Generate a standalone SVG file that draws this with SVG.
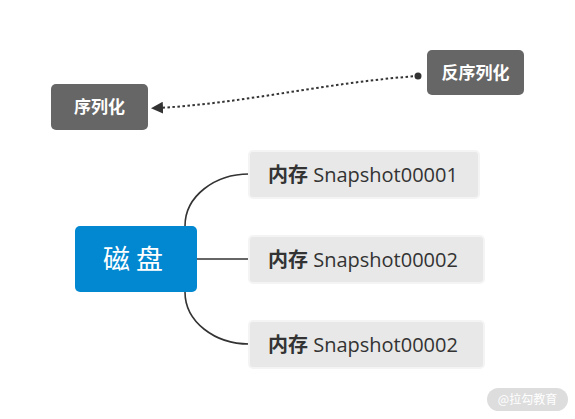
<svg xmlns="http://www.w3.org/2000/svg" width="575" height="419" viewBox="0 0 575 419">
<style>
.dark{fill:#666666}
.dt{font-family:"Noto Sans CJK SC","Noto Sans",sans-serif;font-weight:bold;font-size:17px;fill:#ffffff}
.leaf{fill:#e8e8e8;stroke:#f4f4f4;stroke-width:2}
.lt{font-family:"Open Sans","Noto Sans CJK SC",sans-serif;font-size:20px;fill:#333333}
.cjk{font-family:"Noto Sans CJK SC",sans-serif;font-weight:bold}
.conn{fill:none;stroke:#333333;stroke-width:1.6}
</style>
<defs>
<marker id="arr" viewBox="0 0 10 10" refX="5" refY="5" markerWidth="6" markerHeight="6" orient="auto-start-reverse">
<path d="M0,0 L10,5 L0,10 z" fill="#333333"/>
</marker>
</defs>
<rect width="575" height="419" fill="#ffffff"/>
<g id="connectors">
<path class="conn" d="M185,226 C185,196 215,174 249,174"/>
<path class="conn" d="M197,259 L249,259"/>
<path class="conn" d="M185,292 C185,322 215,344 249,344"/>
<path d="M418,76 C330,82 240,104 157,108" fill="none" stroke="#333333" stroke-width="2" stroke-dasharray="2.5,2.5" marker-end="url(#arr)"/>
<circle cx="418" cy="76" r="3.5" fill="#333333"/>
</g>
<g id="node-serialize">
<rect class="dark" x="51" y="84" width="97" height="46" rx="5"/>
<text class="dt" x="99.5" y="113" text-anchor="middle">序列化</text>
</g>
<g id="node-deserialize">
<rect class="dark" x="427" y="50" width="97" height="45" rx="5"/>
<text class="dt" x="475.5" y="79" text-anchor="middle">反序列化</text>
</g>
<g id="node-disk">
<rect x="75" y="226" width="122" height="66" rx="5" fill="#0288d1"/>
<text x="136" y="269" text-anchor="middle" font-family="Noto Sans CJK SC,sans-serif" font-size="27" fill="#ffffff" letter-spacing="6">磁盘</text>
</g>
<g id="node-snap1">
<rect class="leaf" x="249" y="151" width="230" height="47" rx="4"/>
<text class="lt" x="268" y="182"><tspan class="cjk">内存</tspan> Snapshot00001</text>
</g>
<g id="node-snap2">
<rect class="leaf" x="249" y="236" width="235" height="47" rx="4"/>
<text class="lt" x="268" y="267"><tspan class="cjk">内存</tspan> Snapshot00002</text>
</g>
<g id="node-snap3">
<rect class="leaf" x="249" y="321" width="235" height="47" rx="4"/>
<text class="lt" x="268" y="352"><tspan class="cjk">内存</tspan> Snapshot00002</text>
</g>
<g id="watermark">
<rect x="487" y="388" width="81" height="23" rx="11.5" fill="#dddddd"/>
<text x="527.5" y="404" text-anchor="middle" font-family="Noto Sans CJK SC,sans-serif" font-size="12" fill="#ffffff">@拉勾教育</text>
</g>
</svg>
